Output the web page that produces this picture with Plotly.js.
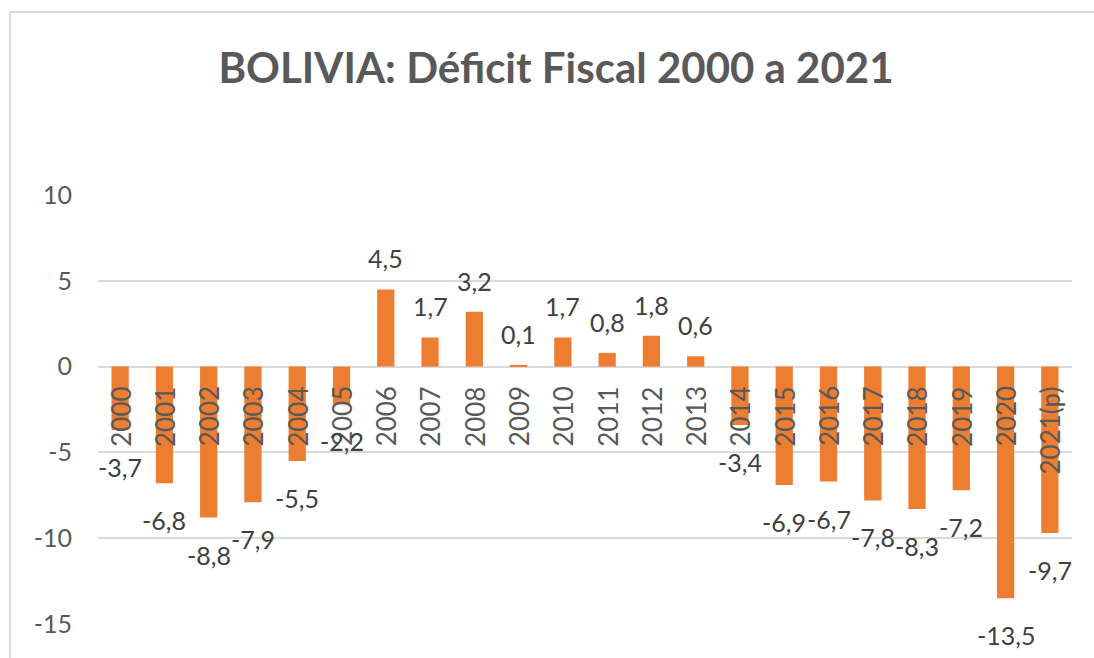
<!DOCTYPE html>
<html>
<head>
<meta charset="utf-8">
<script src="https://cdn.plot.ly/plotly-3.0.1.min.js"></script>
<style>
  html, body { margin: 0; padding: 0; background: #fff; }
  #chart { width: 1094px; height: 658px; }
</style>
</head>
<body>
<div id="chart"></div>
<script>
const years = ["2000","2001","2002","2003","2004","2005","2006","2007","2008","2009","2010",
               "2011","2012","2013","2014","2015","2016","2017","2018","2019","2020","2021(p)"];
const deficit = [-3.7,-6.8,-8.8,-7.9,-5.5,-2.2,4.5,1.7,3.2,0.1,1.7,
                 0.8,1.8,0.6,-3.4,-6.9,-6.7,-7.8,-8.3,-7.2,-13.5,-9.7];
const yTicks = [10,5,0,-5,-10,-15];

const FONT = "Lato, 'Open Sans', sans-serif";
const TXT = "#595959";

const fmt = v => v.toFixed(1).replace(".", ",");

const annotations = [];
years.forEach((yr, i) => {
  // category label rotated next to the zero line (category index position)
  annotations.push({
    x: i, y: 0, xref: "x", yref: "y",
    text: yr, showarrow: false, textangle: -90,
    xanchor: "center", yanchor: "top", yshift: -18,
    font: {family: FONT, size: 26, color: TXT}
  });
  // data label
  const v = deficit[i];
  annotations.push({
    x: i, y: v, xref: "x", yref: "y",
    text: fmt(v), showarrow: false,
    xanchor: "center", yanchor: "middle",
    yshift: v >= 0 ? 31 : -37,
    font: {family: FONT, size: 25, color: "#404040"}
  });
});

const trace = {
  type: "bar",
  x: years,
  y: deficit,
  width: 0.39,
  marker: {color: "#ED7D31"},
  hoverinfo: "x+y"
};

const layout = {
  width: 1094, height: 658,
  paper_bgcolor: "#ffffff", plot_bgcolor: "#ffffff",
  margin: {l: 98, r: 22, t: 195, b: 34},
  showlegend: false,
  title: {
    text: "<b>BOLIVIA: Déficit Fiscal 2000 a 2021</b>",
    font: {family: FONT, size: 42, color: TXT},
    x: 556/1094, xanchor: "center", xref: "container",
    y: 1 - 68/658, yanchor: "middle", yref: "container"
  },
  xaxis: {
    type: "category",
    showticklabels: false, ticks: "",
    showgrid: false, zeroline: false, showline: false,
    range: [-0.5, years.length - 0.5]
  },
  yaxis: {
    range: [-15, 10],
    tickvals: yTicks,
    ticktext: yTicks.map(String),
    showgrid: true, gridcolor: "#d9d9d9", gridwidth: 1.5,
    zeroline: true, zerolinecolor: "#d9d9d9", zerolinewidth: 1.5,
    showline: false, ticks: "",
    tickfont: {family: FONT, size: 25, color: TXT},
    ticklabelstandoff: 25
  },
  annotations: annotations,
  shapes: [
    {type: "line", xref: "paper", yref: "paper", layer: "below",
     x0: -88/974, x1: (1094-98)/974, y0: 1 + (195-12)/429, y1: 1 + (195-12)/429,
     line: {color: "#d9d9d9", width: 2}},
    {type: "line", xref: "paper", yref: "paper", layer: "below",
     x0: -88/974, x1: -88/974, y0: 1 + (195-12)/429, y1: -34/429 - 0.01,
     line: {color: "#d9d9d9", width: 2}}
  ]
};

Plotly.newPlot("chart", [trace], layout, {displayModeBar: false, responsive: false});
</script>
</body>
</html>
